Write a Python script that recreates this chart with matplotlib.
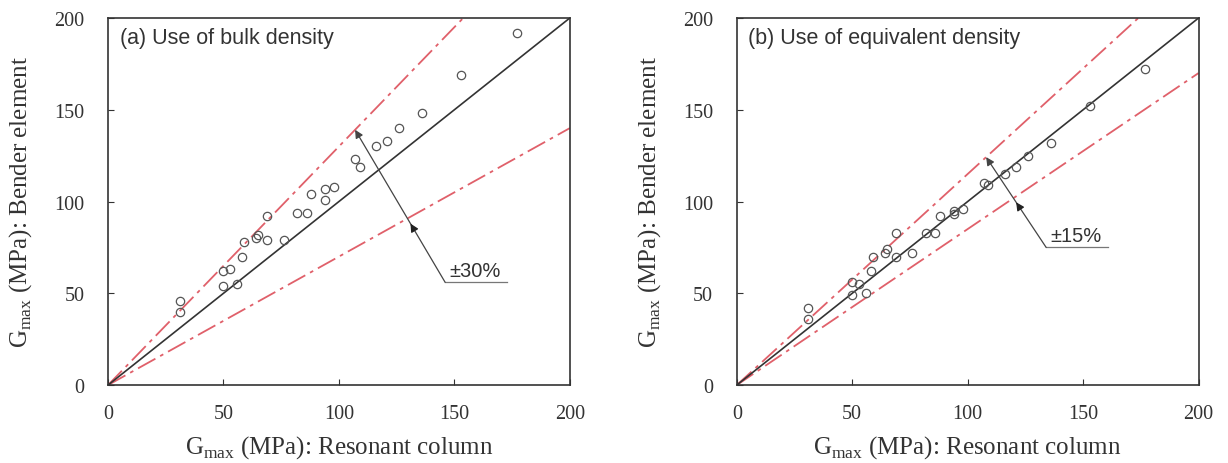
import matplotlib.pyplot as plt
import numpy as np

plt.rcParams['font.family'] = 'Liberation Serif'
plt.rcParams['mathtext.fontset'] = 'custom'
plt.rcParams['mathtext.rm'] = 'Liberation Serif'

# Gmax from resonant column tests (MPa), shared by both panels
rc_gmax = [31, 31, 50, 50, 53, 56, 58, 59, 64, 65, 69, 69, 76, 82, 86, 88,
           94, 94, 98, 107, 109, 116, 121, 126, 136, 153, 177]
# Gmax from bender elements using bulk density
be_bulk = [46, 40, 54, 62, 63, 55, 70, 78, 80, 82, 79, 92, 79, 94, 94, 104,
           101, 107, 108, 123, 119, 130, 133, 140, 148, 169, 192]
# Gmax from bender elements using equivalent density
be_equiv = [36, 42, 56, 49, 55, 50, 62, 70, 72, 74, 70, 83, 72, 83, 83, 92,
            93, 95, 96, 110, 109, 115, 119, 125, 132, 152, 172]

panels = [
    ('(a) Use of bulk density', be_bulk, 0.30, '\u00b130%'),
    ('(b) Use of equivalent density', be_equiv, 0.15, '\u00b115%'),
]
# label anchor (x, y of underline), underline end, upper / lower arrow tip x
label_pos = [((146, 56), (173, 56), 107, 131),
             ((134, 75), (161, 75), 108, 121)]

red = '#e0606a'
fig = plt.figure(figsize=(12.28, 4.64), dpi=100)
lefts = [0.088, 0.600]

for i, (title, be, tol, lab) in enumerate(panels):
    ax = fig.add_axes([lefts[i], 0.168, 0.376, 0.791])
    xx = np.array([0, 200])
    ax.plot(xx, xx, color='#333333', lw=1.2, zorder=3)
    for f in (1 + tol, 1 - tol):
        ax.plot(xx, xx * f, color=red, lw=1.3, dashes=(11, 3, 2, 3), zorder=2)
    ax.plot(rc_gmax, be, 'o', mfc='none', mec='#555555', mew=0.9, ms=6, zorder=4)

    (x0, y0), (x1, _), xu, xl = label_pos[i]
    # leader line with arrows on the upper and lower bounds
    yu = xu * (1 + tol)
    ax.annotate('', xy=(xu, yu), xytext=(x0, y0),
                arrowprops=dict(arrowstyle='-|>', color='#444444', lw=0.9,
                                mutation_scale=12, shrinkA=0, shrinkB=0))
    yl = y0 + (yu - y0) * (xl - x0) / (xu - x0)
    ax.annotate('', xy=(xl, yl), xytext=(xl + (x0 - xu) * 0.02, yl + (y0 - yu) * 0.02),
                arrowprops=dict(arrowstyle='-|>', color='#222222', lw=0.9,
                                mutation_scale=12, shrinkA=0, shrinkB=0))
    ax.plot([x0, x1], [y0, y0], color='#777777', lw=0.9)
    ax.text(x0 + 2, y0 + 1.5, lab, family='Liberation Sans', fontsize=14.5,
            color='#333333', ha='left', va='bottom')

    ax.text(5, 195, title, family='Liberation Sans', fontsize=15.5,
            color='#333333', ha='left', va='top')

    ax.set_xlim(0, 200)
    ax.set_ylim(0, 200)
    ax.set_xticks([0, 50, 100, 150, 200])
    ax.set_yticks([0, 50, 100, 150, 200])
    ax.tick_params(direction='in', length=4, labelsize=14.5, colors='#333333')
    ax.tick_params(axis='y', pad=17)
    ax.tick_params(axis='x', pad=14)
    for s in ax.spines.values():
        s.set_linewidth(1.2)
        s.set_color('#333333')
    ax.set_xlabel(r'G$_{\mathrm{max}}$ (MPa): Resonant column', fontsize=18,
                  color='#333333')
    ax.set_ylabel(r'G$_{\mathrm{max}}$ (MPa): Bender element', fontsize=18,
                  color='#333333')
    ax.xaxis.set_label_coords(0.5, -0.13)
    ax.yaxis.set_label_coords(-0.16, 0.5)

fig.savefig('out.png', dpi=100)
